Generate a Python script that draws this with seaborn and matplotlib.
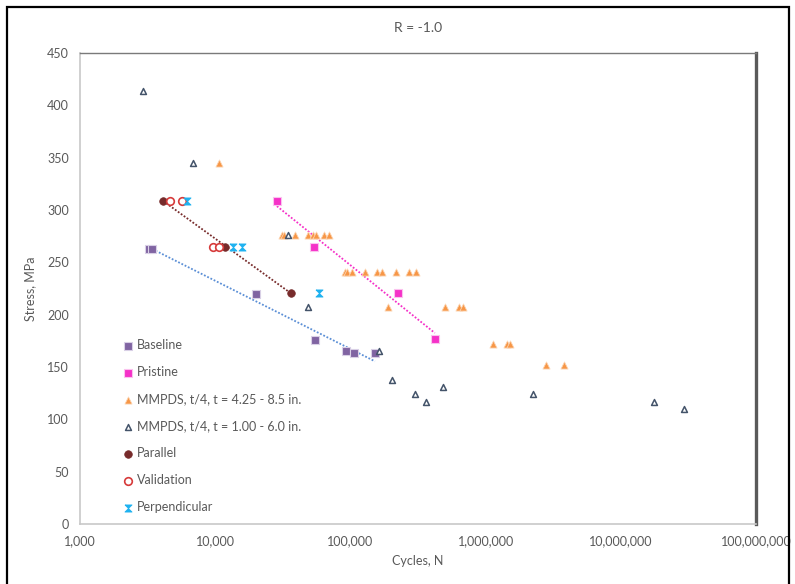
import numpy as np
import pandas as pd
import matplotlib
matplotlib.use("Agg")
import matplotlib.pyplot as plt
from matplotlib.patches import Rectangle
from matplotlib.ticker import FixedLocator, FuncFormatter, NullLocator
import seaborn as sns

# ---------------- data ----------------
baseline_n = [3250, 3420, 20200, 54600, 93500, 106000, 152000]
baseline_s = [263, 263, 220, 176, 165, 163.5, 163.5]

pristine_n = [28600, 54000, 225000, 421000]
pristine_s = [309, 265, 221, 177]

mmpds_a_n = [10600,
             31000, 32500, 38800, 48700, 52500, 55500, 63500, 69000,
             91000, 95000, 102000, 129000, 156000, 170000, 219000, 272000, 308000,
             191000, 505000, 635000, 680000,
             1140000, 1430000, 1510000,
             2800000, 3820000]
mmpds_a_s = [345,
             276, 276, 276, 276, 276, 276, 276, 276,
             241, 241, 241, 241, 241, 241, 241, 241, 241,
             207, 207, 207, 207,
             172, 172, 172,
             152, 152]

mmpds_b_n = [2940, 6800, 34300, 48600, 163000, 203000, 298000, 363000, 480000,
             2240000, 17700000, 29100000]
mmpds_b_s = [414, 345, 276, 207, 165.5, 138, 124, 117, 131, 124, 117, 110]

parallel_n = [4130, 11800, 36200]
parallel_s = [309, 265, 221]

validation_n = [4600, 5650, 9660, 10600]
validation_s = [309, 309, 265, 265]

perp_n = [6180, 13500, 15800, 58400]
perp_s = [309, 265, 265, 221]

x_ticks = [1e3, 1e4, 1e5, 1e6, 1e7, 1e8]
y_ticks = [0, 50, 100, 150, 200, 250, 300, 350, 400, 450]

labels = ["Baseline", "Pristine", "MMPDS, t/4, t = 4.25 - 8.5 in.",
          "MMPDS, t/4, t = 1.00 - 6.0 in.", "Parallel", "Validation", "Perpendicular"]

# ---------------- style ----------------
sns.set_theme(style="white")
plt.rcParams["font.family"] = ["Lato", "DejaVu Sans"]
txt = "#595959"

fig = plt.figure(figsize=(7.95, 5.84), dpi=100)
ax = fig.add_axes([80 / 795, (584 - 524) / 584, (756 - 80) / 795, (524 - 53) / 584])

hourglass = [(-1, 1), (1, 1), (-1, -1), (1, -1), (-1, 1)]

def df(n, s):
    return pd.DataFrame({"N": n, "S": s})

sns.scatterplot(data=df(baseline_n, baseline_s), x="N", y="S", ax=ax, marker="s",
                s=36, color="#8064a2", edgecolor="#d9d0e6", linewidth=0.8,
                label=labels[0], zorder=4)
sns.scatterplot(data=df(pristine_n, pristine_s), x="N", y="S", ax=ax, marker="s",
                s=36, color="#f531c8", edgecolor="#fbc2ee", linewidth=0.8,
                label=labels[1], zorder=4)
sns.scatterplot(data=df(mmpds_a_n, mmpds_a_s), x="N", y="S", ax=ax, marker="^",
                s=26, color="#f79646", edgecolor="#fbd3b0", linewidth=0.6,
                label=labels[2], zorder=3)
sns.scatterplot(data=df(mmpds_b_n, mmpds_b_s), x="N", y="S", ax=ax, marker="^",
                s=18, facecolor="white", edgecolor="#44546a", linewidth=1.1,
                label=labels[3], zorder=5)
sns.scatterplot(data=df(parallel_n, parallel_s), x="N", y="S", ax=ax, marker="o",
                s=30, color="#772b2b", edgecolor="#772b2b", linewidth=0.5,
                label=labels[4], zorder=4)
sns.scatterplot(data=df(validation_n, validation_s), x="N", y="S", ax=ax, marker="o",
                s=30, facecolor="white", edgecolor="#d63a3a", linewidth=1.2,
                label=labels[5], zorder=4)
sns.scatterplot(data=df(perp_n, perp_s), x="N", y="S", ax=ax, marker=hourglass,
                s=26, color="#1fb2f0", edgecolor="#1fb2f0", linewidth=0.6,
                label=labels[6], zorder=4)

# logarithmic trend lines (straight on log-x axis)
sns.regplot(data=df(baseline_n, baseline_s), x="N", y="S", ax=ax, logx=True,
            scatter=False, ci=None, truncate=True,
            line_kws=dict(color="#5b8fd6", linestyle=(0, (1, 1)), linewidth=1.3))
sns.regplot(data=df(pristine_n, pristine_s), x="N", y="S", ax=ax, logx=True,
            scatter=False, ci=None, truncate=True,
            line_kws=dict(color="#f531c8", linestyle=(0, (1, 1)), linewidth=1.3))
sns.regplot(data=df(parallel_n, parallel_s), x="N", y="S", ax=ax, logx=True,
            scatter=False, ci=None, truncate=True,
            line_kws=dict(color="#772b2b", linestyle=(0, (1, 1)), linewidth=1.3))

ax.set_xscale("log")
ax.set_xlim(x_ticks[0], x_ticks[-1])
ax.set_ylim(y_ticks[0], y_ticks[-1])
ax.xaxis.set_major_locator(FixedLocator(x_ticks))
ax.xaxis.set_minor_locator(NullLocator())
ax.xaxis.set_major_formatter(FuncFormatter(lambda v, p: f"{int(round(v)):,}"))
ax.set_yticks(y_ticks)
ax.tick_params(axis="both", length=0, labelsize=9, colors=txt, pad=8)
ax.grid(False)

ax.set_xlabel("Cycles, N", fontsize=9, color=txt, labelpad=6)
ax.set_ylabel("Stress, MPa", fontsize=9, color=txt, labelpad=8)

for side in ["left", "bottom"]:
    ax.spines[side].set_color("#c8c8c8")
    ax.spines[side].set_linewidth(1.2)
ax.spines["top"].set_color("#7a7a7a")
ax.spines["top"].set_linewidth(1.0)
ax.spines["right"].set_color("#5a5a5a")
ax.spines["right"].set_linewidth(2.4)

leg = ax.legend(loc="upper left", bbox_to_anchor=(0.055, 0.405), frameon=False,
                fontsize=9, labelspacing=1.2, handletextpad=0.3,
                handlelength=0.8, borderpad=0, markerscale=1.0)
for t in leg.get_texts():
    t.set_color(txt)

fig.text(418 / 795, 1 - 28 / 584, "R = -1.0", ha="center", va="center",
         fontsize=10, color=txt)

fig.patches.append(Rectangle((7 / 795, -0.02), (789 - 7) / 795, (584 - 7) / 584 + 0.02,
                             transform=fig.transFigure, fill=False,
                             edgecolor="black", linewidth=1.6))

fig.savefig("out.png", dpi=100)
